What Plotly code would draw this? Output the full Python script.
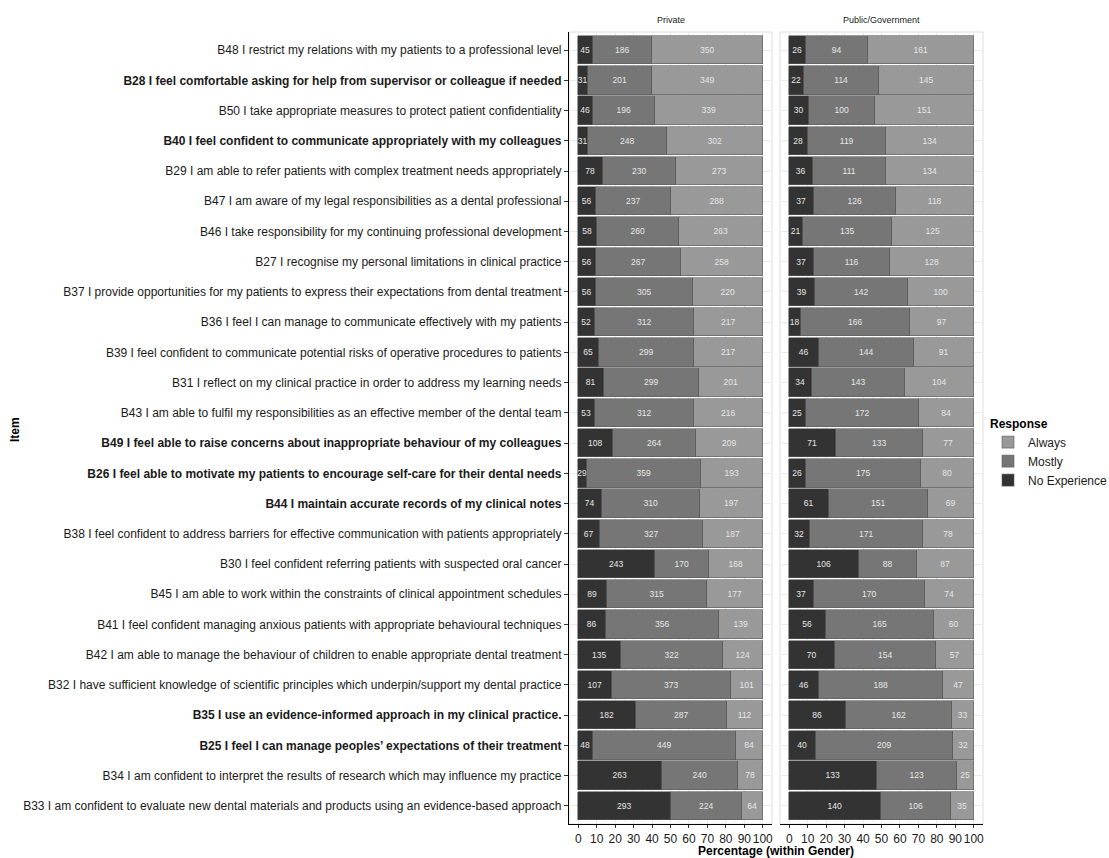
import plotly.graph_objects as go
from plotly.subplots import make_subplots

# ---------------- data ----------------
items = [
    "B48 I restrict my relations with my patients to a professional level",
    "B28 I feel comfortable asking for help from supervisor or colleague if needed",
    "B50 I take appropriate measures to protect patient confidentiality",
    "B40 I feel confident to communicate appropriately with my colleagues",
    "B29 I am able to refer patients with complex treatment needs appropriately",
    "B47 I am aware of my legal responsibilities as a dental professional",
    "B46 I take responsibility for my continuing professional development",
    "B27 I recognise my personal limitations in clinical practice",
    "B37 I provide opportunities for my patients to express their expectations from dental treatment",
    "B36 I feel I can manage to communicate effectively with my patients",
    "B39 I feel confident to communicate potential risks of operative procedures to patients",
    "B31 I reflect on my clinical practice in order to address my learning needs",
    "B43 I am able to fulfil my responsibilities as an effective member of the dental team",
    "B49 I feel able to raise concerns about inappropriate behaviour of my colleagues",
    "B26 I feel able to motivate my patients to encourage self-care for their dental needs",
    "B44 I maintain accurate records of my clinical notes",
    "B38 I feel confident to address barriers for effective communication with patients appropriately",
    "B30 I feel confident referring patients with suspected oral cancer",
    "B45 I am able to work within the constraints of clinical appointment schedules",
    "B41 I feel confident managing anxious patients with appropriate behavioural techniques",
    "B42 I am able to manage the behaviour of children to enable appropriate dental treatment",
    "B32 I have sufficient knowledge of scientific principles which underpin/support my dental practice",
    "B35 I use an evidence-informed approach in my clinical practice.",
    "B25 I feel I can manage peoples\u2019 expectations of their treatment",
    "B34 I am confident to interpret the results of research which may influence my practice",
    "B33 I am confident to evaluate new dental materials and products using an evidence-based approach",
]
bold_codes = ["B28", "B40", "B49", "B26", "B44", "B35", "B25"]

panels = ["Private", "Public/Government"]
responses = ["No Experience", "Mostly", "Always"]

private_no_experience = [45, 31, 46, 31, 78, 56, 58, 56, 56, 52, 65, 81, 53, 108, 29, 74, 67, 243, 89, 86, 135, 107, 182, 48, 263, 293]
private_mostly = [186, 201, 196, 248, 230, 237, 260, 267, 305, 312, 299, 299, 312, 264, 359, 310, 327, 170, 315, 356, 322, 373, 287, 449, 240, 224]
private_always = [350, 349, 339, 302, 273, 288, 263, 258, 220, 217, 217, 201, 216, 209, 193, 197, 187, 168, 177, 139, 124, 101, 112, 84, 78, 64]

public_no_experience = [26, 22, 30, 28, 36, 37, 21, 37, 39, 18, 46, 34, 25, 71, 26, 61, 32, 106, 37, 56, 70, 46, 86, 40, 133, 140]
public_mostly = [94, 114, 100, 119, 111, 126, 135, 116, 142, 166, 144, 143, 172, 133, 175, 151, 171, 88, 170, 165, 154, 188, 162, 209, 123, 106]
public_always = [161, 145, 151, 134, 134, 118, 125, 128, 100, 97, 91, 104, 84, 77, 80, 69, 78, 87, 74, 60, 57, 47, 33, 32, 25, 35]

counts = {
    "Private": {"No Experience": private_no_experience, "Mostly": private_mostly, "Always": private_always},
    "Public/Government": {"No Experience": public_no_experience, "Mostly": public_mostly, "Always": public_always},
}
colors = {"No Experience": "#333333", "Mostly": "#767676", "Always": "#999999"}

# ---------------- figure ----------------
FONT = "Liberation Sans, Arial, sans-serif"
W, H = 1109, 858
ML, MR, MT, MB = 569, 126, 32, 34
plot_w = W - ML - MR
plot_h = H - MT - MB
gap = 8
d1 = (plot_w - gap) / 2 / plot_w

fig = make_subplots(rows=1, cols=2, shared_yaxes=True, horizontal_spacing=gap / plot_w)

for ci, panel in enumerate(panels):
    totals = [sum(v) for v in zip(*[counts[panel][r] for r in responses])]
    for resp in responses:
        vals = counts[panel][resp]
        pct = [v / t * 100 for v, t in zip(vals, totals)]
        fig.add_trace(
            go.Bar(
                x=pct, y=items, orientation="h", name=resp,
                text=[str(v) for v in vals], textposition="inside",
                insidetextanchor="middle", textangle=0,
                textfont=dict(size=8.5, color="#e6e6e6", family=FONT),
                marker=dict(color=colors[resp], line=dict(color="#5a5a5a", width=0.6)),
                width=0.94, legendgroup=resp, showlegend=(ci == 0),
                hovertemplate="%{y}<br>" + resp + ": %{text}<extra></extra>",
            ),
            row=1, col=ci + 1,
        )

ticktext = [("<b>%s</b>" % s) if s.split(" ")[0] in bold_codes else s for s in items]

xcommon = dict(
    range=[-5, 105], tickmode="linear", tick0=0, dtick=10, tickangle=0,
    ticks="outside", ticklen=3, tickcolor="#333333", tickwidth=1,
    showline=True, linecolor="#000000", linewidth=1.2,
    showgrid=True, gridcolor="#ebebeb", gridwidth=1, zeroline=False,
    minor=dict(tick0=0, dtick=5, showgrid=True, gridcolor="#f3f3f3", gridwidth=0.6, ticks=""),
    tickfont=dict(size=12, color="#1a1a1a", family=FONT),
    automargin=False,
)
fig.update_xaxes(**xcommon)
fig.update_layout(xaxis=dict(domain=[0, d1]), xaxis2=dict(domain=[1 - d1, 1]))

fig.update_yaxes(
    type="category", categoryorder="array", categoryarray=items,
    range=[len(items) - 0.4, -0.6],
    showgrid=True, gridcolor="#ebebeb", gridwidth=1, zeroline=False,
    automargin=False,
)
fig.update_layout(
    yaxis=dict(
        tickmode="array", tickvals=items, ticktext=ticktext,
        ticks="outside", ticklen=4, tickcolor="#333333",
        showline=True, linecolor="#000000", linewidth=1.2,
        tickfont=dict(size=12, color="#1a1a1a", family=FONT),
    ),
    yaxis2=dict(showticklabels=False, ticks="", showline=False),
)

# panel borders (light grey)
shapes = []
for xr, yr in [("x domain", "y domain"), ("x2 domain", "y2 domain")]:
    shapes.append(dict(type="rect", xref=xr, yref=yr, x0=0, x1=1, y0=0, y1=1,
                       line=dict(color="#dedede", width=1), layer="below"))

annotations = []
for ci, panel in enumerate(panels):
    xc = d1 / 2 if ci == 0 else 1 - d1 / 2
    annotations.append(dict(text=panel, xref="paper", yref="paper", x=xc, y=1 + 12 / plot_h,
                            xanchor="center", yanchor="middle", showarrow=False,
                            font=dict(size=9, color="#1a1a1a", family=FONT)))
annotations.append(dict(text="<b>Percentage (within Gender)</b>", xref="paper", yref="paper",
                        x=0.5, y=-26.5 / plot_h, xanchor="center", yanchor="middle", showarrow=False,
                        font=dict(size=12, color="#000000", family=FONT)))
annotations.append(dict(text="<b>Item</b>", xref="paper", yref="paper",
                        x=(15 - ML) / plot_w, y=(H - MB - 430) / plot_h, textangle=-90,
                        xanchor="center", yanchor="middle", showarrow=False,
                        font=dict(size=12, color="#000000", family=FONT)))

fig.update_layout(
    width=W, height=H,
    margin=dict(l=ML, r=MR, t=MT, b=MB, autoexpand=False),
    barmode="stack", bargap=0,
    plot_bgcolor="#ffffff", paper_bgcolor="#ffffff",
    font=dict(family=FONT, size=12, color="#1a1a1a"),
    shapes=shapes, annotations=annotations,
    uniformtext=dict(minsize=8.5, mode="show"),
    legend=dict(
        title=dict(text="<b>Response</b>", font=dict(size=12, color="#000000")),
        traceorder="reversed", x=(988 - ML) / plot_w, y=(H - MB - 412) / plot_h,
        xanchor="left", yanchor="top", tracegroupgap=2,
        font=dict(size=12, color="#1a1a1a", family=FONT), bgcolor="rgba(0,0,0,0)",
    ),
)

fig.write_html(
    "out.html",
    config={"displayModeBar": False},
    post_script="document.body.style.margin='0px';document.body.style.overflow='hidden';",
)
